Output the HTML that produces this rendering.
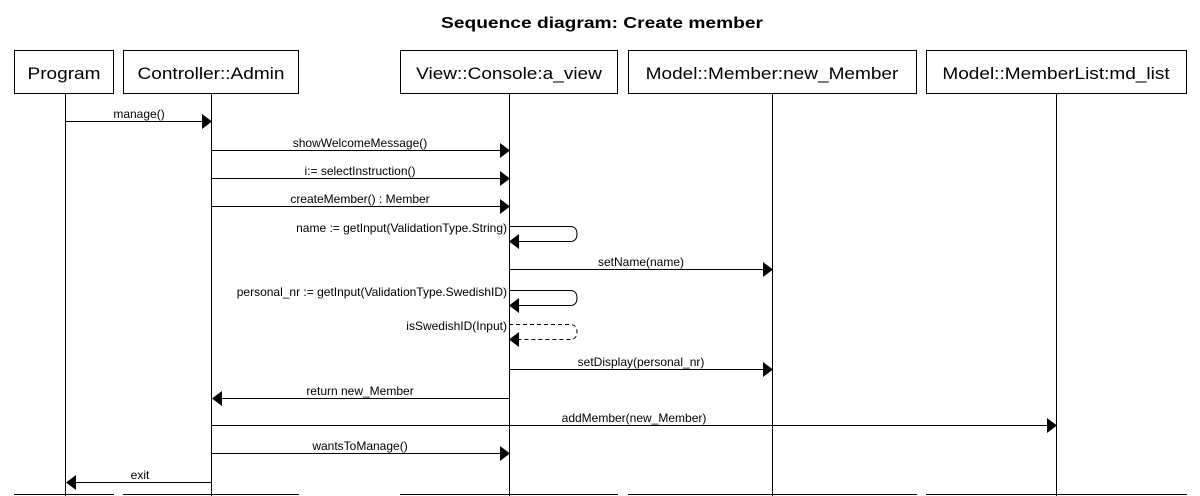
<!DOCTYPE html>
<html><head><meta charset="utf-8"><style>
html,body{margin:0;padding:0;background:#fff;}
svg{display:block;font-family:"Liberation Sans",sans-serif;}
.m{font-size:12px;fill:#000;}
</style></head><body>
<svg width="1200" height="496" viewBox="0 0 1200 496">
<g transform="translate(602,28) scale(1.2,1)"><text x="0" y="0" text-anchor="middle" font-size="16" font-weight="bold">Sequence diagram: Create member</text></g>
<g fill="#fff" stroke="#000" stroke-width="1">
<rect x="14.5" y="50.5" width="99" height="43"/>
<rect x="123.5" y="50.5" width="175" height="43"/>
<rect x="400.5" y="50.5" width="217" height="43"/>
<rect x="628.5" y="50.5" width="288" height="43"/>
<rect x="926.5" y="50.5" width="260" height="43"/>
</g>
<g font-size="17" text-anchor="middle">
<g transform="translate(64,79) scale(1.12,1)"><text>Program</text></g>
<g transform="translate(211,79) scale(1.12,1)"><text>Controller::Admin</text></g>
<g transform="translate(509,79) scale(1.12,1)"><text>View::Console:a_view</text></g>
<g transform="translate(772,79) scale(1.12,1)"><text>Model::Member:new_Member</text></g>
<g transform="translate(1056,79) scale(1.12,1)"><text>Model::MemberList:md_list</text></g>
</g>
<g stroke="#000" stroke-width="1">
<line x1="65.5" y1="94" x2="65.5" y2="496"/>
<line x1="211.5" y1="94" x2="211.5" y2="496"/>
<line x1="509.5" y1="94" x2="509.5" y2="496"/>
<line x1="772.5" y1="94" x2="772.5" y2="496"/>
<line x1="1056.5" y1="94" x2="1056.5" y2="496"/>
<line x1="14" y1="494.5" x2="114" y2="494.5"/>
<line x1="123" y1="494.5" x2="299" y2="494.5"/>
<line x1="400" y1="494.5" x2="618" y2="494.5"/>
<line x1="628" y1="494.5" x2="917" y2="494.5"/>
<line x1="926" y1="494.5" x2="1187" y2="494.5"/>
</g>
<g stroke="#000" stroke-width="1" fill="none">
<line x1="65" y1="121.5" x2="202" y2="121.5"/>
<line x1="211" y1="150.5" x2="500" y2="150.5"/>
<line x1="211" y1="178.5" x2="500" y2="178.5"/>
<line x1="211" y1="206.5" x2="500" y2="206.5"/>
<path d="M509 226.5 H570 Q577 226.5 577 234 Q577 241.5 570 241.5 H518"/>
<line x1="509" y1="269.5" x2="763" y2="269.5"/>
<path d="M509 290.5 H570 Q577 290.5 577 298 Q577 305.5 570 305.5 H518"/>
<path d="M509 324.5 H570 Q577 324.5 577 332 Q577 339.5 570 339.5 H518" stroke-dasharray="4,3"/>
<line x1="509" y1="369.5" x2="763" y2="369.5"/>
<line x1="220" y1="398.5" x2="509" y2="398.5"/>
<line x1="211" y1="425.5" x2="1047" y2="425.5"/>
<line x1="211" y1="453.5" x2="500" y2="453.5"/>
<line x1="74" y1="482.5" x2="211" y2="482.5"/>
</g>
<g fill="#000">
<polygon points="202,114 212,121.5 202,129"/>
<polygon points="500,143 510,150.5 500,158"/>
<polygon points="500,171 510,178.5 500,186"/>
<polygon points="500,199 510,206.5 500,214"/>
<polygon points="519,234 509,241.5 519,249"/>
<polygon points="763,262 773,269.5 763,277"/>
<polygon points="519,298 509,305.5 519,313"/>
<polygon points="519,332 509,339.5 519,347"/>
<polygon points="763,362 773,369.5 763,377"/>
<polygon points="222,391 212,398.5 222,406"/>
<polygon points="1047,418 1057,425.5 1047,433"/>
<polygon points="500,446 510,453.5 500,461"/>
<polygon points="76,475 66,482.5 76,490"/>
</g>
<g class="m" text-anchor="middle">
<g transform="translate(139,118) scale(1.0,1)"><text>manage()</text></g>
<g transform="translate(360,147) scale(1.0,1)"><text>showWelcomeMessage()</text></g>
<g transform="translate(360,175) scale(1.0,1)"><text>i:= selectInstruction()</text></g>
<g transform="translate(360,203) scale(1.0,1)"><text>createMember() : Member</text></g>
<g transform="translate(641,266) scale(1.0,1)"><text>setName(name)</text></g>
<g transform="translate(641,366) scale(1.0,1)"><text>setDisplay(personal_nr)</text></g>
<g transform="translate(360,395) scale(1.0,1)"><text>return new_Member</text></g>
<g transform="translate(634,422) scale(1.0,1)"><text>addMember(new_Member)</text></g>
<g transform="translate(360,450) scale(1.0,1)"><text>wantsToManage()</text></g>
<g transform="translate(140,479) scale(1.0,1)"><text>exit</text></g>
</g>
<g class="m" text-anchor="end">
<g transform="translate(507,232)"><text>name := getInput(ValidationType.String)</text></g>
<g transform="translate(507,296)"><text>personal_nr := getInput(ValidationType.SwedishID)</text></g>
<g transform="translate(507,330)"><text>isSwedishID(Input)</text></g>
</g>
</svg>
</body></html>
